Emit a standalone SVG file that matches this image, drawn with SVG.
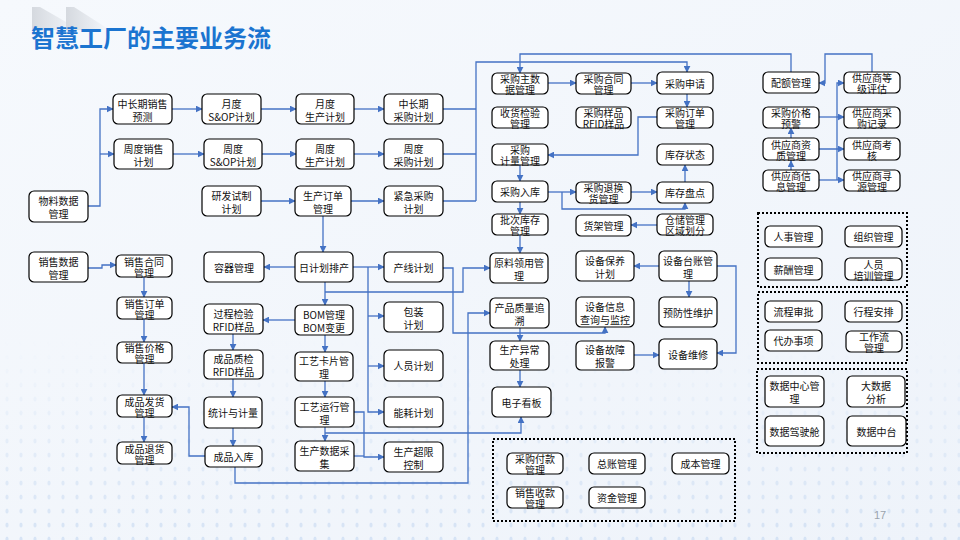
<svg xmlns="http://www.w3.org/2000/svg" width="960" height="540" viewBox="0 0 960 540">
<defs>
<linearGradient id="bg" x1="0" y1="0" x2="1" y2="1">
<stop offset="0" stop-color="#f6f9fd"/>
<stop offset="1" stop-color="#eef3fa"/>
</linearGradient>
<linearGradient id="deco" x1="0" y1="0" x2="1" y2="0">
<stop offset="0" stop-color="#d5d9df"/>
<stop offset="1" stop-color="#d5d9df" stop-opacity="0"/>
</linearGradient>
<pattern id="dots" width="14" height="14" patternUnits="userSpaceOnUse">
<ellipse cx="7" cy="7" rx="1.6" ry="2.6" fill="#b9d0ee"/>
</pattern>
<linearGradient id="fadeMask" x1="0" y1="0" x2="0" y2="1">
<stop offset="0" stop-color="#fff" stop-opacity="0"/>
<stop offset="1" stop-color="#fff" stop-opacity="0.8"/>
</linearGradient>
<mask id="dm"><rect x="0" y="340" width="960" height="200" fill="url(#fadeMask)"/></mask>
<marker id="ah" viewBox="0 0 10 10" refX="9" refY="5" markerWidth="7" markerHeight="7" markerUnits="userSpaceOnUse" orient="auto">
<path d="M0,0 L10,5 L0,10 Z" fill="#4472c4"/>
</marker>
<style>
.n rect{fill:#fff;stroke:#000;stroke-width:1.2}
.n text{font-family:"Noto Sans CJK SC","Noto Sans",sans-serif;font-size:10px;fill:#111;text-anchor:middle;dominant-baseline:central}
.c path{fill:none;stroke:#4472c4;stroke-width:1.3}
.c .a{marker-end:url(#ah)}
.grp{fill:none;stroke:#000;stroke-width:2;stroke-dasharray:2 2}
</style>
</defs>
<rect width="960" height="540" fill="url(#bg)"/>
<rect x="0" y="340" width="960" height="200" fill="url(#dots)" mask="url(#dm)" opacity="0.6"/>
<polygon points="32,7 40,7 80,30 32,30" fill="url(#deco)"/>
<polygon points="66,7 74,7 110,30 66,30" fill="url(#deco)"/>
<text x="31" y="47" font-family="'Noto Sans CJK SC',sans-serif" font-size="24" font-weight="bold" fill="#1b74d0">智慧工厂的主要业务流</text>
<text x="880" y="519" font-family="'Liberation Sans',sans-serif" font-size="11" fill="#9aa3ad" text-anchor="middle">17</text>

<g id="connectors" class="c">
<path class="a" d="M88,206 H100 V109 H113"/>
<path class="a" d="M100,154 H114"/>
<path class="a" d="M172,109 H202"/>
<path class="a" d="M261,109 H296"/>
<path class="a" d="M354,109 H384"/>
<path class="a" d="M173,154 H204"/>
<path class="a" d="M262,154 H296"/>
<path class="a" d="M354,154 H384"/>
<path d="M443,109 H476"/>
<path d="M443,154 H476"/>
<path d="M443,201 H476"/>
<path class="a" d="M476,201 V62 H687 V72"/>
<path class="a" d="M791,72 V54 H520 V73"/>
<path class="a" d="M872,72 V54 H825 V83 H819"/>
<path class="a" d="M548,83 H576"/>
<path class="a" d="M631,83 H657"/>
<path class="a" d="M687,94 V107"/>
<path class="a" d="M657,117 H638 V155 H548"/>
<path class="a" d="M520,165 V181"/>
<path class="a" d="M548,192 H576"/>
<path class="a" d="M631,192 H657"/>
<path class="a" d="M562,192 V209 H685 V203"/>
<path class="a" d="M685,182 V165"/>
<path class="a" d="M657,225 H631"/>
<path class="a" d="M520,202 V214"/>
<path class="a" d="M520,235 V253"/>
<path class="a" d="M261,201 H295"/>
<path class="a" d="M351,201 H384"/>
<path class="a" d="M323,216 V252"/>
<path class="a" d="M295,267 H264"/>
<path class="a" d="M353,267 H384"/>
<path class="a" d="M368,267 V412 H384"/>
<path class="a" d="M368,316 H384"/>
<path class="a" d="M368,366 H384"/>
<path class="a" d="M325,282 V305"/>
<path class="a" d="M325,292 H463 V268 H490"/>
<path class="a" d="M443,268 H453 V333 H605 V327"/>
<path class="a" d="M295,320 H263"/>
<path class="a" d="M325,335 V352"/>
<path class="a" d="M325,381 V397"/>
<path class="a" d="M325,427 V441"/>
<path class="a" d="M325,433 H521 V417"/>
<path class="a" d="M354,412 H364 V457 H384"/>
<path d="M354,456 H364"/>
<path class="a" d="M235,467 V483 H468 V313 H490"/>
<path class="a" d="M233,334 V350"/>
<path class="a" d="M233,379 V397"/>
<path class="a" d="M233,428 V446"/>
<path class="a" d="M205,456 H189 V407 H172"/>
<path class="a" d="M88,268 H102 V265 H116"/>
<path class="a" d="M144,277 V297"/>
<path class="a" d="M144,319 V342"/>
<path class="a" d="M144,363 V395"/>
<path class="a" d="M144,417 V442"/>
<path class="a" d="M520,328 V341"/>
<path class="a" d="M520,370 V387"/>
<path class="a" d="M659,266 H634"/>
<path class="a" d="M689,281 V297"/>
<path class="a" d="M717,266 H736 V353 H717"/>
<path class="a" d="M634,355 H659"/>
<path class="a" d="M819,180 H844"/>
<path class="a" d="M837,180 V83 H844"/>
<path class="a" d="M819,117 H844"/>
<path class="a" d="M791,149 H844"/>
<path class="a" d="M791,170 V161"/>
<path class="a" d="M791,161 V128"/>
</g>

<g id="n-wlsj" class="n"><rect x="29" y="191" width="59" height="31" rx="5"/><text><tspan x="58.5" y="200">物料数据</tspan><tspan x="58.5" y="213">管理</tspan></text></g>
<g id="n-xssj" class="n"><rect x="29" y="252" width="59" height="30" rx="5"/><text><tspan x="58.5" y="260.5">销售数据</tspan><tspan x="58.5" y="273.5">管理</tspan></text></g>
<g id="n-zcqxsyc" class="n"><rect x="113" y="94" width="59" height="30" rx="5"/><text><tspan x="142.5" y="102.5">中长期销售</tspan><tspan x="142.5" y="115.5">预测</tspan></text></g>
<g id="n-zdxsjh" class="n"><rect x="114" y="139" width="59" height="30" rx="5"/><text><tspan x="143.5" y="147.5">周度销售</tspan><tspan x="143.5" y="160.5">计划</tspan></text></g>
<g id="n-xsht" class="n"><rect x="116" y="255" width="56" height="22" rx="5"/><text><tspan x="144" y="260.5">销售合同</tspan><tspan x="144" y="271.5">管理</tspan></text></g>
<g id="n-xsdd" class="n"><rect x="117" y="297" width="55" height="22" rx="5"/><text><tspan x="144.5" y="302.5">销售订单</tspan><tspan x="144.5" y="313.5">管理</tspan></text></g>
<g id="n-xsjg" class="n"><rect x="117" y="342" width="55" height="21" rx="5"/><text><tspan x="144.5" y="347">销售价格</tspan><tspan x="144.5" y="358">管理</tspan></text></g>
<g id="n-cpfh" class="n"><rect x="117" y="395" width="55" height="22" rx="5"/><text><tspan x="144.5" y="400.5">成品发货</tspan><tspan x="144.5" y="411.5">管理</tspan></text></g>
<g id="n-cpth" class="n"><rect x="117" y="442" width="55" height="22" rx="5"/><text><tspan x="144.5" y="447.5">成品退货</tspan><tspan x="144.5" y="458.5">管理</tspan></text></g>

<g id="n-ydsop" class="n"><rect x="202" y="94" width="59" height="30" rx="5"/><text><tspan x="231.5" y="102.5">月度</tspan><tspan x="231.5" y="115.5">S&amp;OP计划</tspan></text></g>
<g id="n-zdsop" class="n"><rect x="204" y="139" width="58" height="30" rx="5"/><text><tspan x="233" y="147.5">周度</tspan><tspan x="233" y="160.5">S&amp;OP计划</tspan></text></g>
<g id="n-yfsz" class="n"><rect x="202" y="186" width="59" height="30" rx="5"/><text><tspan x="231.5" y="194.5">研发试制</tspan><tspan x="231.5" y="207.5">计划</tspan></text></g>
<g id="n-rqgl" class="n"><rect x="204" y="252" width="60" height="30" rx="5"/><text x="234" y="267">容器管理</text></g>
<g id="n-gcjy" class="n"><rect x="204" y="304" width="59" height="30" rx="5"/><text><tspan x="233.5" y="312.5">过程检验</tspan><tspan x="233.5" y="325.5">RFID样品</tspan></text></g>
<g id="n-cpzj" class="n"><rect x="204" y="350" width="59" height="29" rx="5"/><text><tspan x="233.5" y="358">成品质检</tspan><tspan x="233.5" y="371">RFID样品</tspan></text></g>
<g id="n-tjjl" class="n"><rect x="204" y="397" width="58" height="31" rx="5"/><text x="233" y="412.5">统计与计量</text></g>
<g id="n-cprk" class="n"><rect x="205" y="446" width="57" height="21" rx="5"/><text x="233.5" y="456.5">成品入库</text></g>

<g id="n-ydsc" class="n"><rect x="296" y="94" width="58" height="30" rx="5"/><text><tspan x="325" y="102.5">月度</tspan><tspan x="325" y="115.5">生产计划</tspan></text></g>
<g id="n-zdsc" class="n"><rect x="296" y="139" width="58" height="30" rx="5"/><text><tspan x="325" y="147.5">周度</tspan><tspan x="325" y="160.5">生产计划</tspan></text></g>
<g id="n-scdd" class="n"><rect x="295" y="186" width="56" height="30" rx="5"/><text><tspan x="323" y="194.5">生产订单</tspan><tspan x="323" y="207.5">管理</tspan></text></g>
<g id="n-rjhpc" class="n"><rect x="295" y="252" width="58" height="30" rx="5"/><text x="324" y="267">日计划排产</text></g>
<g id="n-bom" class="n"><rect x="295" y="305" width="58" height="30" rx="5"/><text><tspan x="324" y="313.5">BOM管理</tspan><tspan x="324" y="326.5">BOM变更</tspan></text></g>
<g id="n-gykp" class="n"><rect x="295" y="352" width="58" height="29" rx="5"/><text><tspan x="324" y="360">工艺卡片管</tspan><tspan x="324" y="373">理</tspan></text></g>
<g id="n-gyyx" class="n"><rect x="295" y="397" width="59" height="30" rx="5"/><text><tspan x="324.5" y="405.5">工艺运行管</tspan><tspan x="324.5" y="418.5">理</tspan></text></g>
<g id="n-scsjcj" class="n"><rect x="295" y="441" width="59" height="30" rx="5"/><text><tspan x="324.5" y="449.5">生产数据采</tspan><tspan x="324.5" y="462.5">集</tspan></text></g>

<g id="n-zcqcg" class="n"><rect x="384" y="94" width="59" height="30" rx="5"/><text><tspan x="413.5" y="102.5">中长期</tspan><tspan x="413.5" y="115.5">采购计划</tspan></text></g>
<g id="n-zdcg" class="n"><rect x="384" y="139" width="59" height="30" rx="5"/><text><tspan x="413.5" y="147.5">周度</tspan><tspan x="413.5" y="160.5">采购计划</tspan></text></g>
<g id="n-jjcg" class="n"><rect x="384" y="186" width="59" height="30" rx="5"/><text><tspan x="413.5" y="194.5">紧急采购</tspan><tspan x="413.5" y="207.5">计划</tspan></text></g>
<g id="n-cxjh" class="n"><rect x="384" y="252" width="59" height="30" rx="5"/><text x="413.5" y="267">产线计划</text></g>
<g id="n-bzjh" class="n"><rect x="384" y="302" width="59" height="30" rx="5"/><text><tspan x="413.5" y="310.5">包装</tspan><tspan x="413.5" y="323.5">计划</tspan></text></g>
<g id="n-ryjh" class="n"><rect x="384" y="350" width="59" height="31" rx="5"/><text x="413.5" y="365.5">人员计划</text></g>
<g id="n-nhjh" class="n"><rect x="384" y="397" width="59" height="30" rx="5"/><text x="413.5" y="412">能耗计划</text></g>
<g id="n-sccx" class="n"><rect x="384" y="442" width="59" height="30" rx="5"/><text><tspan x="413.5" y="450.5">生产超限</tspan><tspan x="413.5" y="463.5">控制</tspan></text></g>

<g id="n-cgzsj" class="n"><rect x="492" y="73" width="56" height="21" rx="5"/><text><tspan x="520" y="78">采购主数</tspan><tspan x="520" y="89">据管理</tspan></text></g>
<g id="n-shjy" class="n"><rect x="492" y="107" width="56" height="21" rx="5"/><text><tspan x="520" y="112">收货检验</tspan><tspan x="520" y="123">管理</tspan></text></g>
<g id="n-cgjl" class="n"><rect x="492" y="144" width="56" height="21" rx="5"/><text><tspan x="520" y="149">采购</tspan><tspan x="520" y="160">计量管理</tspan></text></g>
<g id="n-cgrk" class="n"><rect x="492" y="181" width="56" height="21" rx="5"/><text x="520" y="191.5">采购入库</text></g>
<g id="n-pckc" class="n"><rect x="492" y="214" width="56" height="21" rx="5"/><text><tspan x="520" y="219">批次库存</tspan><tspan x="520" y="230">管理</tspan></text></g>
<g id="n-ylly" class="n"><rect x="490" y="253" width="58" height="30" rx="5"/><text><tspan x="519" y="261.5">原料领用管</tspan><tspan x="519" y="274.5">理</tspan></text></g>
<g id="n-cpzl" class="n"><rect x="490" y="298" width="59" height="30" rx="5"/><text><tspan x="519.5" y="306.5">产品质量追</tspan><tspan x="519.5" y="319.5">溯</tspan></text></g>
<g id="n-scyc" class="n"><rect x="490" y="341" width="59" height="29" rx="5"/><text><tspan x="519.5" y="349">生产异常</tspan><tspan x="519.5" y="362">处理</tspan></text></g>
<g id="n-dzkb" class="n"><rect x="492" y="387" width="59" height="30" rx="5"/><text x="521.5" y="402">电子看板</text></g>

<g id="n-cght" class="n"><rect x="576" y="73" width="55" height="21" rx="5"/><text><tspan x="603.5" y="78">采购合同</tspan><tspan x="603.5" y="89">管理</tspan></text></g>
<g id="n-cgyp" class="n"><rect x="576" y="107" width="55" height="21" rx="5"/><text><tspan x="603.5" y="112">采购样品</tspan><tspan x="603.5" y="123">RFID样品</tspan></text></g>
<g id="n-cgth" class="n"><rect x="576" y="182" width="55" height="21" rx="5"/><text><tspan x="603.5" y="187">采购退换</tspan><tspan x="603.5" y="198">货管理</tspan></text></g>
<g id="n-hjgl" class="n"><rect x="576" y="215" width="55" height="21" rx="5"/><text x="603.5" y="225.5">货架管理</text></g>
<g id="n-sbby" class="n"><rect x="576" y="251" width="58" height="30" rx="5"/><text><tspan x="605" y="259.5">设备保养</tspan><tspan x="605" y="272.5">计划</tspan></text></g>
<g id="n-sbxx" class="n"><rect x="576" y="297" width="58" height="30" rx="5"/><text><tspan x="605" y="305.5">设备信息</tspan><tspan x="605" y="318.5">查询与监控</tspan></text></g>
<g id="n-sbgz" class="n"><rect x="576" y="341" width="58" height="29" rx="5"/><text><tspan x="605" y="349">设备故障</tspan><tspan x="605" y="362">报警</tspan></text></g>

<g id="n-cgsq" class="n"><rect x="657" y="72" width="56" height="22" rx="5"/><text x="685" y="83">采购申请</text></g>
<g id="n-cgdd" class="n"><rect x="657" y="107" width="56" height="21" rx="5"/><text><tspan x="685" y="112">采购订单</tspan><tspan x="685" y="123">管理</tspan></text></g>
<g id="n-kczt" class="n"><rect x="657" y="144" width="56" height="21" rx="5"/><text x="685" y="154.5">库存状态</text></g>
<g id="n-kcpd" class="n"><rect x="657" y="182" width="56" height="21" rx="5"/><text x="685" y="192.5">库存盘点</text></g>
<g id="n-ccgl" class="n"><rect x="657" y="214" width="56" height="21" rx="5"/><text><tspan x="685" y="219">仓储管理</tspan><tspan x="685" y="230">区域划分</tspan></text></g>
<g id="n-sbtz" class="n"><rect x="659" y="251" width="58" height="30" rx="5"/><text><tspan x="688" y="259.5">设备台账管</tspan><tspan x="688" y="272.5">理</tspan></text></g>
<g id="n-yfxwh" class="n"><rect x="659" y="297" width="58" height="30" rx="5"/><text x="688" y="312">预防性维护</text></g>
<g id="n-sbwx" class="n"><rect x="659" y="339" width="58" height="30" rx="5"/><text x="688" y="354">设备维修</text></g>

<g id="n-pegl" class="n"><rect x="763" y="72" width="56" height="21" rx="5"/><text x="791" y="82.5">配额管理</text></g>
<g id="n-cgjg" class="n"><rect x="763" y="107" width="56" height="21" rx="5"/><text><tspan x="791" y="112">采购价格</tspan><tspan x="791" y="123">预警</tspan></text></g>
<g id="n-gyszz" class="n"><rect x="763" y="138" width="56" height="22" rx="5"/><text><tspan x="791" y="143.5">供应商资</tspan><tspan x="791" y="154.5">质管理</tspan></text></g>
<g id="n-gysxx" class="n"><rect x="763" y="170" width="56" height="21" rx="5"/><text><tspan x="791" y="175">供应商信</tspan><tspan x="791" y="186">息管理</tspan></text></g>
<g id="n-gysdj" class="n"><rect x="844" y="72" width="56" height="21" rx="5"/><text><tspan x="872" y="77">供应商等</tspan><tspan x="872" y="88">级评估</tspan></text></g>
<g id="n-gyscg" class="n"><rect x="844" y="107" width="56" height="21" rx="5"/><text><tspan x="872" y="112">供应商采</tspan><tspan x="872" y="123">购记录</tspan></text></g>
<g id="n-gyskh" class="n"><rect x="844" y="138" width="56" height="22" rx="5"/><text><tspan x="872" y="143.5">供应商考</tspan><tspan x="872" y="154.5">核</tspan></text></g>
<g id="n-gysxy" class="n"><rect x="844" y="170" width="56" height="21" rx="5"/><text><tspan x="872" y="175">供应商寻</tspan><tspan x="872" y="186">源管理</tspan></text></g>

<g id="grp-hr">
<rect class="grp" x="758" y="213" width="149" height="74"/>
<g id="n-rsgl" class="n"><rect x="765" y="226" width="57" height="21" rx="5"/><text x="793.5" y="236.5">人事管理</text></g>
<g id="n-zzgl" class="n"><rect x="845" y="226" width="57" height="21" rx="5"/><text x="873.5" y="236.5">组织管理</text></g>
<g id="n-xcgl" class="n"><rect x="765" y="258" width="57" height="22" rx="5"/><text x="793.5" y="269">薪酬管理</text></g>
<g id="n-rypx" class="n"><rect x="845" y="258" width="57" height="22" rx="5"/><text><tspan x="873.5" y="263.5">人员</tspan><tspan x="873.5" y="274.5">培训管理</tspan></text></g>
</g>
<g id="grp-flow">
<rect class="grp" x="758" y="292" width="149" height="71"/>
<g id="n-lcsp" class="n"><rect x="765" y="301" width="57" height="21" rx="5"/><text x="793.5" y="311.5">流程审批</text></g>
<g id="n-xcap" class="n"><rect x="845" y="301" width="57" height="21" rx="5"/><text x="873.5" y="311.5">行程安排</text></g>
<g id="n-dbsx" class="n"><rect x="765" y="330" width="57" height="21" rx="5"/><text x="793.5" y="340.5">代办事项</text></g>
<g id="n-gzl" class="n"><rect x="846" y="331" width="56" height="21" rx="5"/><text><tspan x="874" y="336">工作流</tspan><tspan x="874" y="347">管理</tspan></text></g>
</g>
<g id="grp-data">
<rect class="grp" x="757" y="369" width="150" height="84"/>
<g id="n-sjzx" class="n"><rect x="765" y="376" width="59" height="31" rx="5"/><text><tspan x="794.5" y="385">数据中心管</tspan><tspan x="794.5" y="398">理</tspan></text></g>
<g id="n-dsj" class="n"><rect x="847" y="376" width="58" height="31" rx="5"/><text><tspan x="876" y="385">大数据</tspan><tspan x="876" y="398">分析</tspan></text></g>
<g id="n-sjjsc" class="n"><rect x="765" y="416" width="59" height="30" rx="5"/><text x="794.5" y="431">数据驾驶舱</text></g>
<g id="n-sjzt" class="n"><rect x="847" y="416" width="59" height="30" rx="5"/><text x="876.5" y="431">数据中台</text></g>
</g>
<g id="grp-fin">
<rect class="grp" x="493" y="439" width="242" height="82"/>
<g id="n-cgfk" class="n"><rect x="507" y="453" width="56" height="21" rx="5"/><text><tspan x="535" y="458">采购付款</tspan><tspan x="535" y="469">管理</tspan></text></g>
<g id="n-zzgl2" class="n"><rect x="589" y="453" width="56" height="21" rx="5"/><text x="617" y="463.5">总账管理</text></g>
<g id="n-cbgl" class="n"><rect x="672" y="453" width="57" height="21" rx="5"/><text x="700.5" y="463.5">成本管理</text></g>
<g id="n-xssk" class="n"><rect x="507" y="487" width="56" height="21" rx="5"/><text><tspan x="535" y="492">销售收款</tspan><tspan x="535" y="503">管理</tspan></text></g>
<g id="n-zjgl" class="n"><rect x="589" y="487" width="56" height="21" rx="5"/><text x="617" y="497.5">资金管理</text></g>
</g>
</svg>
